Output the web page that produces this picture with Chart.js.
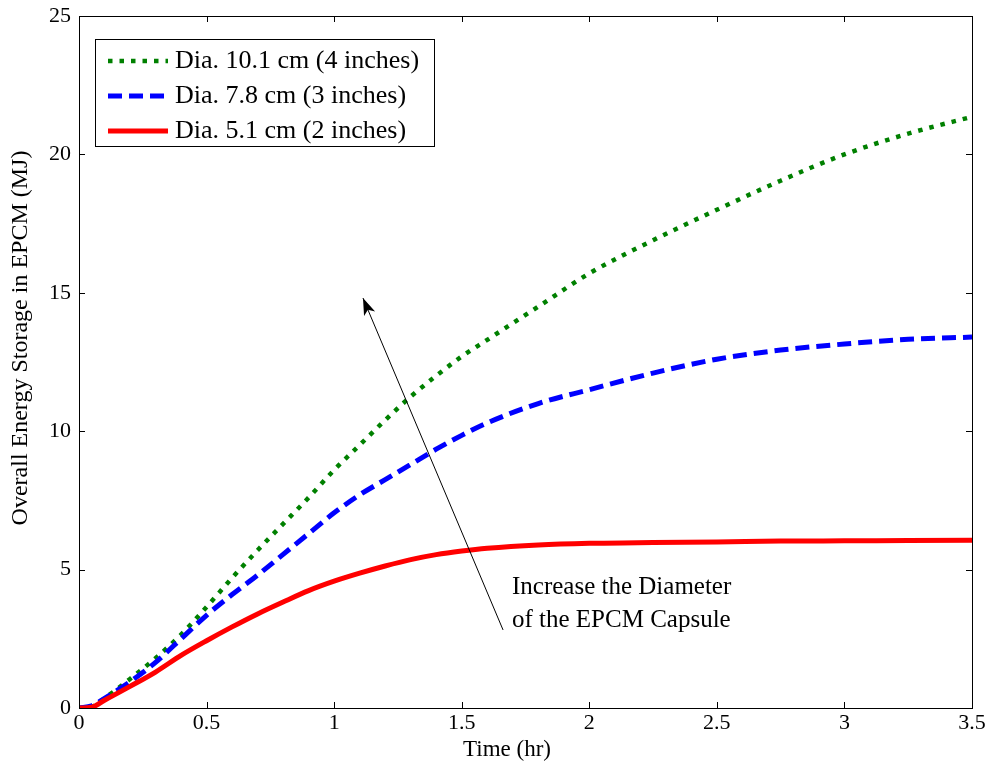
<!DOCTYPE html>
<html>
<head>
<meta charset="utf-8">
<script src="https://cdn.jsdelivr.net/npm/chart.js@4/dist/chart.umd.min.js"></script>
<style>
  html, body { margin: 0; padding: 0; background: #fff; }
  #wrap { width: 991px; height: 774px; }
</style>
</head>
<body>
<div id="wrap"><canvas id="c" width="991" height="774"></canvas></div>
<script>
// time axis (hr)
const time = [0, 0.05, 0.1, 0.2, 0.3, 0.4, 0.5, 0.6, 0.7, 0.8, 0.9, 1.0, 1.1, 1.2, 1.3, 1.4, 1.5, 1.6, 1.8, 2.0, 2.25, 2.5, 2.75, 3.0, 3.25, 3.5];
// overall energy storage (MJ)
const dia101 = [0, 0.05, 0.35, 1.05, 1.8, 2.65, 3.65, 4.7, 5.7, 6.65, 7.6, 8.6, 9.5, 10.4, 11.25, 12.0, 12.7, 13.3, 14.5, 15.7, 16.9, 18.0, 19.05, 20.0, 20.75, 21.36];
const dia78  = [0, 0.08, 0.35, 0.95, 1.65, 2.5, 3.35, 4.1, 4.8, 5.55, 6.3, 7.05, 7.7, 8.25, 8.8, 9.35, 9.85, 10.3, 11.0, 11.5, 12.1, 12.6, 12.93, 13.15, 13.32, 13.4];
const dia51  = [0, 0.03, 0.28, 0.78, 1.3, 1.9, 2.43, 2.93, 3.4, 3.83, 4.24, 4.58, 4.87, 5.13, 5.36, 5.54, 5.67, 5.77, 5.89, 5.95, 5.98, 6.0, 6.03, 6.04, 6.05, 6.06];
const seriesNames = ['Dia. 10.1 cm (4 inches)', 'Dia. 7.8 cm (3 inches)', 'Dia. 5.1 cm (2 inches)'];
const xTicks = [0, 0.5, 1, 1.5, 2, 2.5, 3, 3.5];
const yTicks = [0, 5, 10, 15, 20, 25];
const xTitle = 'Time (hr)';
const yTitle = 'Overall Energy Storage in EPCM (MJ)';

const FONT = '"Liberation Serif", "Times New Roman", serif';

const pts = (ys) => time.map((t, i) => ({ x: t, y: ys[i] }));

// box, inward ticks, legend, axis titles and arrow note (matlab look)
const matlabBox = {
    id: 'matlabBox',
    afterDraw(chart) {
        const ctx = chart.ctx;
        const a = chart.chartArea;
        const xs = chart.scales.x, ys = chart.scales.y;
        ctx.save();
        ctx.strokeStyle = '#000';
        ctx.lineWidth = 1;
        ctx.strokeRect(a.left + 0.5, a.top + 0.5, a.right - a.left, a.bottom - a.top);
        const tl = 6;
        ctx.beginPath();
        xTicks.forEach(v => {
            const px = Math.round(xs.getPixelForValue(v)) + 0.5;
            ctx.moveTo(px, a.bottom); ctx.lineTo(px, a.bottom - tl);
            ctx.moveTo(px, a.top); ctx.lineTo(px, a.top + tl);
        });
        yTicks.forEach(v => {
            const py = Math.round(ys.getPixelForValue(v)) + 0.5;
            ctx.moveTo(a.left, py); ctx.lineTo(a.left + tl, py);
            ctx.moveTo(a.right, py); ctx.lineTo(a.right - tl, py);
        });
        ctx.stroke();

        // legend
        const lx = a.left + 16, ly = a.top + 23, lw = 339, lh = 107;
        ctx.fillStyle = '#fff';
        ctx.fillRect(lx, ly, lw, lh);
        ctx.strokeRect(lx + 0.5, ly + 0.5, lw, lh);
        ctx.font = '26px ' + FONT;
        ctx.textBaseline = 'middle';
        chart.data.datasets.forEach((ds, i) => {
            const y = ly + 22 + i * 35;
            ctx.save();
            ctx.strokeStyle = ds.borderColor;
            ctx.lineWidth = ds.borderWidth;
            ctx.setLineDash(ds.borderDash || []);
            ctx.beginPath();
            ctx.moveTo(lx + 13, y); ctx.lineTo(lx + 73, y);
            ctx.stroke();
            ctx.restore();
            ctx.fillStyle = '#000';
            ctx.fillText(ds.label, lx + 80, y);
        });

        // axis titles
        ctx.fillStyle = '#000';
        ctx.textAlign = 'center';
        ctx.font = '23px ' + FONT;
        ctx.fillText(xTitle, 507, 750);
        ctx.save();
        ctx.translate(21, 338);
        ctx.rotate(-Math.PI / 2);
        ctx.font = '24px ' + FONT;
        ctx.fillText(yTitle, 0, 0);
        ctx.restore();

        // arrow + note
        const x0 = xs.getPixelForValue(1.662), y0 = ys.getPixelForValue(2.82);
        const x1 = xs.getPixelForValue(1.113), y1 = ys.getPixelForValue(14.81);
        ctx.strokeStyle = '#000';
        ctx.lineWidth = 1;
        ctx.beginPath();
        ctx.moveTo(x0, y0); ctx.lineTo(x1, y1);
        ctx.stroke();
        const ang = Math.atan2(y1 - y0, x1 - x0);
        const hl = 17, hw = 6;
        ctx.beginPath();
        ctx.moveTo(x1, y1);
        ctx.lineTo(x1 - hl * Math.cos(ang) + hw * Math.sin(ang), y1 - hl * Math.sin(ang) - hw * Math.cos(ang));
        ctx.lineTo(x1 - hl * 0.75 * Math.cos(ang), y1 - hl * 0.75 * Math.sin(ang));
        ctx.lineTo(x1 - hl * Math.cos(ang) - hw * Math.sin(ang), y1 - hl * Math.sin(ang) + hw * Math.cos(ang));
        ctx.closePath();
        ctx.fillStyle = '#000';
        ctx.fill();
        ctx.font = '25px ' + FONT;
        ctx.textAlign = 'left';
        ctx.fillText('Increase the Diameter', xs.getPixelForValue(1.697), ys.getPixelForValue(4.34));
        ctx.fillText('of the EPCM Capsule', xs.getPixelForValue(1.697), ys.getPixelForValue(3.18));
        ctx.restore();
    }
};

const chart = new Chart(document.getElementById('c'), {
    type: 'line',
    data: {
        datasets: [
            { label: seriesNames[0], data: pts(dia101), borderColor: '#008000', borderWidth: 4.5, borderDash: [4.5, 7], order: 3 },
            { label: seriesNames[1], data: pts(dia78), borderColor: '#0000ff', borderWidth: 5, borderDash: [14, 7], order: 2 },
            { label: seriesNames[2], data: pts(dia51), borderColor: '#ff0000', borderWidth: 5, order: 1 }
        ]
    },
    options: {
        responsive: false,
        animation: false,
        layout: { padding: { left: 0, right: 19, top: 16, bottom: 0 } },
        elements: {
            point: { radius: 0 },
            line: { cubicInterpolationMode: 'monotone', fill: false }
        },
        plugins: {
            legend: { display: false },
            tooltip: { enabled: false }
        },
        scales: {
            x: {
                type: 'linear',
                min: 0, max: 3.5,
                afterBuildTicks: (s) => { s.ticks = xTicks.map(v => ({ value: v })); },
                afterFit: (s) => { s.height = 66; s.paddingLeft = 0; s.paddingRight = 0; },
                grid: { display: false, drawTicks: false },
                border: { display: false },
                ticks: { color: '#000', font: { family: FONT, size: 22 }, padding: 2, maxRotation: 0, callback: (v) => String(v) }
            },
            y: {
                min: 0, max: 25,
                afterBuildTicks: (s) => { s.ticks = yTicks.map(v => ({ value: v })); },
                afterFit: (s) => { s.width = 79; s.paddingTop = 0; s.paddingBottom = 0; },
                grid: { display: false, drawTicks: false },
                border: { display: false },
                ticks: { color: '#000', font: { family: FONT, size: 22 }, padding: 8, callback: (v) => String(v) }
            }
        }
    },
    plugins: [matlabBox]
});
</script>
</body>
</html>
